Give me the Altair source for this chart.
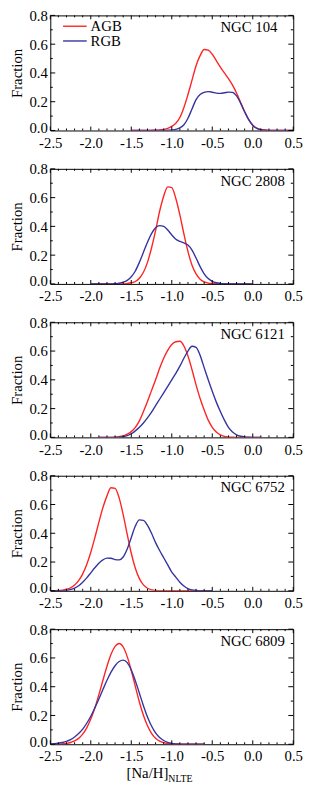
import altair as alt
import pandas as pd

RED = "#ff2424"
BLUE = "#3434a0"
FONT = "Liberation Serif"
W, H = 247, 117

# ---------------- data ----------------
names = ["NGC 104", "NGC 2808", "NGC 6121", "NGC 6752", "NGC 6809"]
branches = ["AGB", "RGB"]

x_104 = [-1.5, -1.45, -1.4, -1.35, -1.3, -1.25, -1.2, -1.15, -1.1, -1.05, -1.0, -0.95, -0.9, -0.85,
         -0.8, -0.75, -0.7, -0.65, -0.6, -0.55, -0.5, -0.45, -0.4, -0.35, -0.3, -0.25, -0.2, -0.15,
         -0.1, -0.05, 0.0, 0.05, 0.1, 0.15, 0.2, 0.25, 0.3, 0.35, 0.4, 0.45, 0.5]
agb_104 = [0, 0, 0, 0, 0, 0.001, 0.002, 0.004, 0.008, 0.015, 0.028, 0.05, 0.09, 0.16, 0.25, 0.35,
           0.45, 0.52, 0.563, 0.558, 0.53, 0.485, 0.44, 0.40, 0.36, 0.315, 0.26, 0.195, 0.13, 0.075,
           0.038, 0.017, 0.007, 0.003, 0.001, 0, 0, 0, 0, 0, 0]
rgb_104 = [0, 0, 0, 0, 0, 0, 0, 0, 0, 0.002, 0.004, 0.008, 0.018, 0.04, 0.085, 0.15, 0.215, 0.25,
           0.265, 0.27, 0.266, 0.26, 0.258, 0.262, 0.267, 0.265, 0.24, 0.19, 0.13, 0.075, 0.035,
           0.014, 0.005, 0.002, 0, 0, 0, 0, 0, 0, 0]

x_2808 = [-2.0, -1.95, -1.9, -1.85, -1.8, -1.75, -1.7, -1.65, -1.6, -1.55, -1.5, -1.45, -1.4, -1.35,
          -1.3, -1.25, -1.2, -1.15, -1.1, -1.05, -1.0, -0.95, -0.9, -0.85, -0.8, -0.75, -0.7, -0.65,
          -0.6, -0.55, -0.5, -0.45, -0.4, -0.35, -0.3, -0.25, -0.2, -0.15, -0.1, -0.05, 0.0]
agb_2808 = [0, 0, 0, 0, 0, 0, 0, 0, 0, 0.003, 0.008, 0.017, 0.04, 0.081, 0.15, 0.25, 0.37, 0.505,
            0.61, 0.675, 0.67, 0.594, 0.48, 0.347, 0.225, 0.13, 0.07, 0.033, 0.014, 0.006, 0.002,
            0.001, 0, 0, 0, 0, 0, 0, 0, 0, 0]
rgb_2808 = [0, 0, 0, 0, 0, 0, 0.002, 0.005, 0.012, 0.025, 0.05, 0.09, 0.15, 0.22, 0.29, 0.35, 0.39,
            0.405, 0.40, 0.375, 0.34, 0.31, 0.295, 0.285, 0.27, 0.235, 0.18, 0.12, 0.07, 0.037,
            0.018, 0.008, 0.003, 0.001, 0, 0, 0, 0, 0, 0, 0]

x_6121 = [-1.9, -1.85, -1.8, -1.75, -1.7, -1.65, -1.6, -1.55, -1.5, -1.45, -1.4, -1.35, -1.3, -1.25,
          -1.2, -1.15, -1.1, -1.05, -1.0, -0.95, -0.9, -0.85, -0.8, -0.75, -0.7, -0.65, -0.6, -0.55,
          -0.5, -0.45, -0.4, -0.35, -0.3, -0.25, -0.2, -0.15, -0.1, -0.05, 0.0, 0.05, 0.1]
agb_6121 = [0, 0, 0, 0, 0.002, 0.005, 0.01, 0.022, 0.04, 0.07, 0.115, 0.18, 0.25, 0.325, 0.40, 0.48,
            0.55, 0.605, 0.645, 0.665, 0.668, 0.635, 0.565, 0.47, 0.365, 0.27, 0.19, 0.12, 0.07,
            0.037, 0.017, 0.007, 0.003, 0.001, 0, 0, 0, 0, 0, 0, 0]
rgb_6121 = [0, 0, 0, 0, 0, 0.002, 0.005, 0.012, 0.025, 0.045, 0.07, 0.10, 0.135, 0.175, 0.22, 0.265,
            0.31, 0.355, 0.40, 0.445, 0.495, 0.55, 0.60, 0.633, 0.625, 0.57, 0.485, 0.40, 0.32,
            0.245, 0.18, 0.12, 0.07, 0.038, 0.018, 0.008, 0.003, 0.001, 0, 0, 0]

x_6752 = [-2.5, -2.45, -2.4, -2.35, -2.3, -2.25, -2.2, -2.15, -2.1, -2.05, -2.0, -1.95, -1.9, -1.85,
          -1.8, -1.75, -1.7, -1.65, -1.6, -1.55, -1.5, -1.45, -1.4, -1.35, -1.3, -1.25, -1.2, -1.15,
          -1.1, -1.05, -1.0, -0.95, -0.9, -0.85, -0.8, -0.75, -0.7, -0.65, -0.6, -0.55, -0.5]
agb_6752 = [0.0004, 0.001, 0.002, 0.005, 0.011, 0.021, 0.04, 0.071, 0.118, 0.183, 0.268, 0.369,
            0.477, 0.579, 0.66, 0.716, 0.712, 0.646, 0.53, 0.392, 0.261, 0.157, 0.085, 0.041, 0.018,
            0.007, 0.0026, 0.001, 0, 0, 0, 0, 0, 0, 0, 0, 0, 0, 0, 0, 0]
rgb_6752 = [0, 0, 0, 0.001, 0.003, 0.008, 0.018, 0.035, 0.06, 0.09, 0.125, 0.16, 0.192, 0.215, 0.227,
            0.226, 0.217, 0.215, 0.235, 0.29, 0.37, 0.45, 0.493, 0.49, 0.455, 0.40, 0.335, 0.28,
            0.23, 0.18, 0.13, 0.095, 0.06, 0.033, 0.015, 0.006, 0.002, 0.001, 0, 0, 0]

x_6809 = [-2.5, -2.45, -2.4, -2.35, -2.3, -2.25, -2.2, -2.15, -2.1, -2.05, -2.0, -1.95, -1.9, -1.85,
          -1.8, -1.75, -1.7, -1.65, -1.6, -1.55, -1.5, -1.45, -1.4, -1.35, -1.3, -1.25, -1.2, -1.15,
          -1.1, -1.05, -1.0, -0.95, -0.9, -0.85, -0.8, -0.75, -0.7, -0.65, -0.6]
agb_6809 = [0, 0.0005, 0.001, 0.003, 0.006, 0.012, 0.023, 0.041, 0.07, 0.114, 0.175, 0.252, 0.345,
            0.445, 0.542, 0.625, 0.68, 0.70, 0.676, 0.609, 0.513, 0.402, 0.294, 0.201, 0.128, 0.076,
            0.042, 0.022, 0.011, 0.005, 0.002, 0.001, 0, 0, 0, 0, 0, 0, 0]
rgb_6809 = [0.002, 0.004, 0.007, 0.012, 0.02, 0.032, 0.05, 0.074, 0.105, 0.146, 0.195, 0.253, 0.315,
            0.381, 0.445, 0.501, 0.546, 0.575, 0.585, 0.567, 0.516, 0.442, 0.355, 0.268, 0.19, 0.127,
            0.079, 0.047, 0.026, 0.013, 0.0065, 0.003, 0.0013, 0, 0, 0, 0, 0, 0]

xs_all = [x_104, x_2808, x_6121, x_6752, x_6809]
agb_all = [agb_104, agb_2808, agb_6121, agb_6752, agb_6809]
rgb_all = [rgb_104, rgb_2808, rgb_6121, rgb_6752, rgb_6809]

x_major = [-2.5, -2.0, -1.5, -1.0, -0.5, 0.0, 0.5]
x_minor = [-2.4, -2.3, -2.2, -2.1, -1.9, -1.8, -1.7, -1.6, -1.4, -1.3, -1.2, -1.1, -0.9, -0.8,
           -0.7, -0.6, -0.4, -0.3, -0.2, -0.1, 0.1, 0.2, 0.3, 0.4]
y_major = [0.0, 0.2, 0.4, 0.6, 0.8]
y_minor = [0.1, 0.3, 0.5, 0.7]

xscale = alt.Scale(domain=[-2.5, 0.5], nice=False, zero=False)
yscale = alt.Scale(domain=[0.0, 0.8], nice=False, zero=False)

XAXIS = alt.Axis(values=x_major, ticks=False, domain=False, grid=False,
                 labelFont=FONT, labelFontSize=15, labelColor="black",
                 labelPadding=5, labelFlush=False, title=None,
                 labelExpr="datum.value < 0 ? '-' + format(-datum.value, '.1f') : format(datum.value, '.1f')")
YAXIS = alt.Axis(values=y_major, format=".1f", ticks=False, domain=False, grid=False,
                 labelFont=FONT, labelFontSize=15, labelColor="black",
                 labelPadding=3, labelFlush=False,
                 labelOffset={"condition": {"test": "datum.value == 0", "value": -3}, "value": 0},
                 title="Fraction", titleFont=FONT, titleFontSize=15, titleFontWeight="normal",
                 titleColor="black", titlePadding=5)


def tick_layers():
    layers = []
    for vals, ln in ((x_major, 4), (x_minor, 2)):
        d = pd.DataFrame({"x": vals})
        xe = alt.X("x:Q", scale=xscale, axis=XAXIS)
        layers.append(alt.Chart(d).mark_rule(color="black", strokeWidth=1).encode(
            x=xe, y=alt.value(H), y2=alt.value(H - ln)))
        layers.append(alt.Chart(d).mark_rule(color="black", strokeWidth=1).encode(
            x=xe, y=alt.value(0), y2=alt.value(ln)))
    for vals, ln in ((y_major, 5), (y_minor, 2.5)):
        d = pd.DataFrame({"y": vals})
        ye = alt.Y("y:Q", scale=yscale, axis=YAXIS)
        layers.append(alt.Chart(d).mark_rule(color="black", strokeWidth=1).encode(
            y=ye, x=alt.value(0), x2=alt.value(ln)))
        layers.append(alt.Chart(d).mark_rule(color="black", strokeWidth=1).encode(
            y=ye, x=alt.value(W), x2=alt.value(W - ln)))
    return layers


def panel(i):
    xs, agb, rgb = xs_all[i], agb_all[i], rgb_all[i]
    n = len(xs)
    df = pd.DataFrame({"x": xs + xs, "y": agb + rgb,
                       "branch": [branches[0]] * n + [branches[1]] * n})
    lines = alt.Chart(df).mark_line(strokeWidth=1.4, interpolate="monotone", clip=True).encode(
        x=alt.X("x:Q", scale=xscale, axis=XAXIS),
        y=alt.Y("y:Q", scale=yscale, axis=YAXIS),
        color=alt.Color("branch:N", scale=alt.Scale(domain=branches, range=[RED, BLUE]), legend=None),
        detail="branch:N",
    )
    label = alt.Chart(pd.DataFrame({"name": [names[i]]})).mark_text(
        font=FONT, fontSize=15, align="left", baseline="middle", color="black").encode(
        x=alt.value(173), y=alt.value(12), text="name:N")
    layers = [lines] + tick_layers() + [label]
    if i == 0:
        for j, (col, yy) in enumerate(((RED, 11), (BLUE, 26))):
            ld = pd.DataFrame({"b": [branches[j]]})
            layers.append(alt.Chart(ld).mark_rule(color=col, strokeWidth=1.4).encode(
                x=alt.value(13), x2=alt.value(37), y=alt.value(yy)))
            layers.append(alt.Chart(ld).mark_text(
                font=FONT, fontSize=15, align="left", baseline="middle", color="black").encode(
                x=alt.value(41), y=alt.value(yy), text="b:N"))
    if i == len(names) - 1:
        layers.append(alt.Chart(pd.DataFrame({"t": ["[Na/H]"]})).mark_text(
            font=FONT, fontSize=15, align="right", baseline="alphabetic", color="black").encode(
            x=alt.value(120), y=alt.value(H + 34), text="t:N"))
        layers.append(alt.Chart(pd.DataFrame({"t": ["NLTE"]})).mark_text(
            font=FONT, fontSize=10, align="left", baseline="alphabetic", color="black").encode(
            x=alt.value(120), y=alt.value(H + 38), text="t:N"))
    return alt.layer(*layers).properties(width=W, height=H)


chart = alt.vconcat(*[panel(i) for i in range(len(names))], spacing=10).properties(
    padding={"left": 0, "top": -7, "right": 5, "bottom": 0}
).configure_view(stroke="black", strokeWidth=1).configure_axis(
    labelFont=FONT, labelFontSize=15, labelColor="black",
    titleFont=FONT, titleFontSize=15, titleFontWeight="normal", titleColor="black",
)

chart.save("out.html", embed_options={"renderer": "svg", "actions": False})
